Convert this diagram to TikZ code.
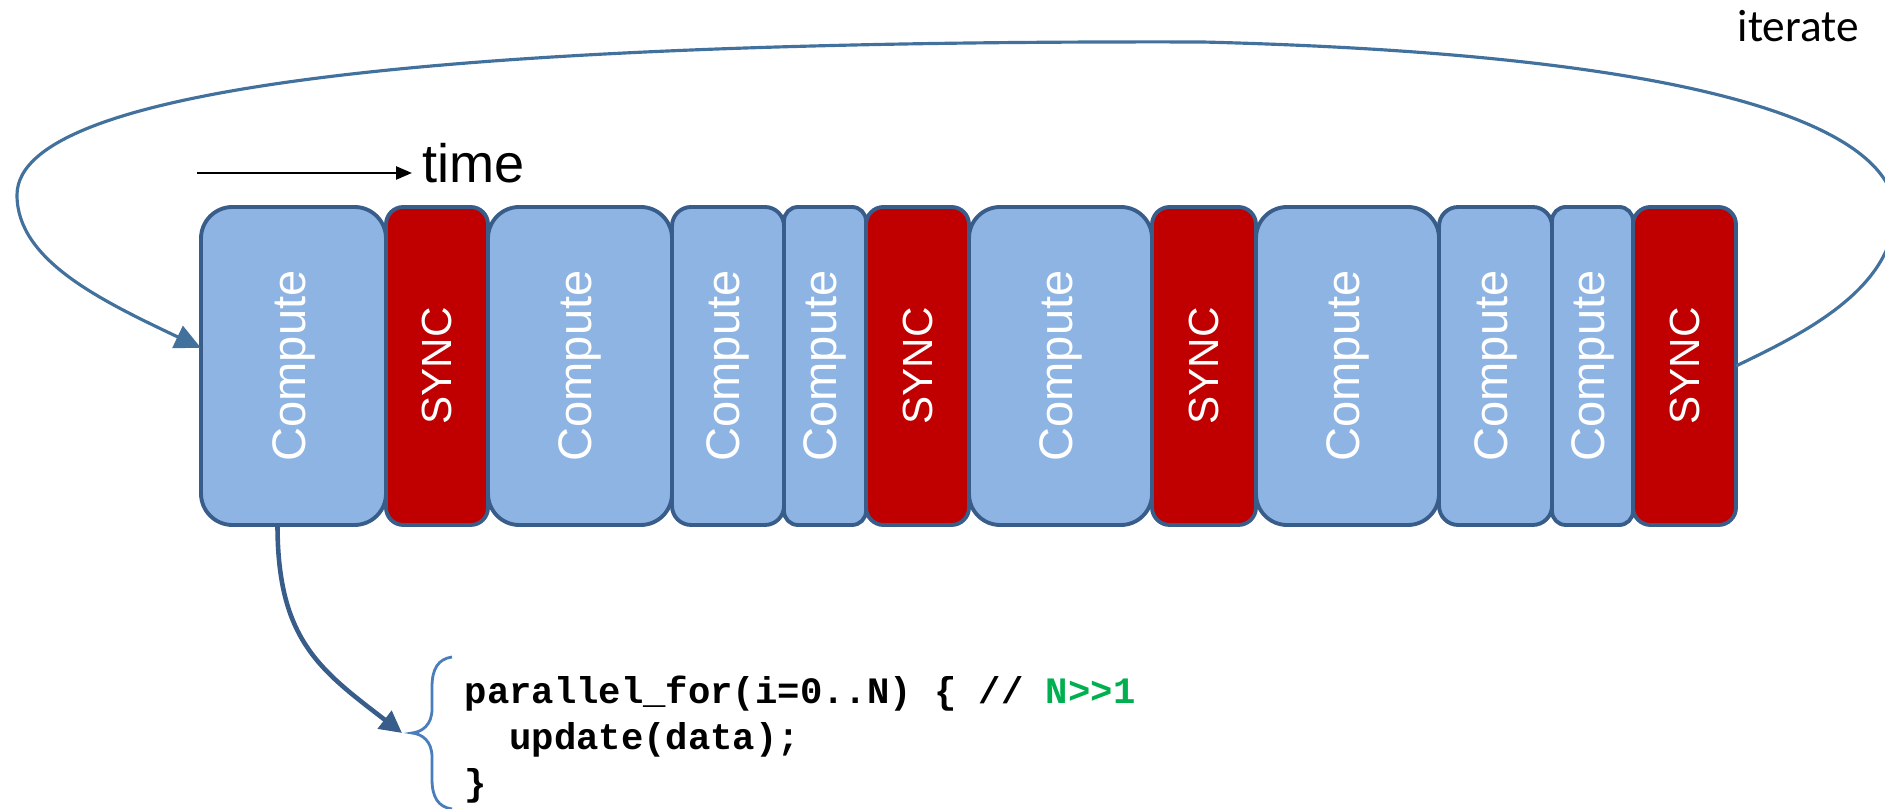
\documentclass[tikz,border=0pt]{standalone}
\usepackage{fontspec}
\setmainfont{Liberation Sans}
\newfontfamily\calfont{Carlito}
\newfontfamily\codefont{Liberation Mono}
\usepackage{graphicx}
\usetikzlibrary{positioning,arrows.meta}

\definecolor{cor_fill}{RGB}{142,180,227}
\definecolor{cor_sync}{RGB}{192,0,0}
\definecolor{cor_line}{RGB}{56,93,138}
\definecolor{cor_loop}{RGB}{65,113,156}
\definecolor{cor_brace}{RGB}{74,126,187}
\definecolor{cor_green}{RGB}{0,176,80}

\begin{document}
\begin{tikzpicture}
        \tikzset{
            blk/.style 2 args={
                draw=cor_line,
                line width=1.1pt,
                fill=#1,
                text=white,
                minimum width=#2,
                minimum height=3.18cm,
                rounded corners=0.17*#2,
                inner sep=0pt,
                outer sep=0pt
            },
            comp/.style={blk={cor_fill}{#1}, font=\fontsize{13.4}{16}\selectfont},
            sync/.style={blk={cor_sync}{#1}, font=\fontsize{12}{14}\selectfont}
        }
        \useasboundingbox (0,0) rectangle (18.85,8.09);

        % BLOCOS
        \node[comp=1.85cm, anchor=west] (c1) at (2.01,4.43) {\rotatebox{90}{Compute}};
        \node[sync=1.02cm, right=0pt of c1] (s1) {\rotatebox{90}{SYNC}};
        \node[comp=1.84cm, right=0pt of s1] (c2) {\rotatebox{90}{Compute}};
        \node[comp=1.12cm, right=0pt of c2] (c3) {\rotatebox{90}{Compute}};
        \node[comp=0.82cm, right=0pt of c3] (c4) {\rotatebox{90}{Compute}};
        \node[sync=1.03cm, right=0pt of c4] (s2) {\rotatebox{90}{SYNC}};
        \node[comp=1.83cm, right=0pt of s2] (c5) {\rotatebox{90}{Compute}};
        \node[sync=1.04cm, right=0pt of c5] (s3) {\rotatebox{90}{SYNC}};
        \node[comp=1.83cm, right=0pt of s3] (c6) {\rotatebox{90}{Compute}};
        \node[comp=1.13cm, right=0pt of c6] (c7) {\rotatebox{90}{Compute}};
        \node[comp=0.81cm, right=0pt of c7] (c8) {\rotatebox{90}{Compute}};
        \node[sync=1.03cm, right=0pt of c8] (s4) {\rotatebox{90}{SYNC}};

        % TEMPO
        \coordinate (t0) at (1.97,6.36);
        \node[anchor=base west, inner sep=0pt, font=\fontsize{15.4}{18}\selectfont] (time) at (4.22,6.26) {time};
        \draw[black, line width=0.7pt, -{Triangle[length=1.6mm,width=1.3mm]}] (t0) -- ([xshift=-1mm]time.west |- t0);

        % ITERACAO
        \node[anchor=base west, inner sep=0pt, font=\calfont\fontsize{12.9}{15}\selectfont] (iter) at (17.37,7.67) {iterate};
        \draw[cor_loop, line width=0.9pt, -{Triangle[length=2.6mm,width=2.4mm]}] (s4.east)
            .. controls (18.00,4.74) and (18.95,5.19) .. (18.95,5.99)
            .. controls (18.90,6.79) and (17.20,7.54) .. (12.02,7.67)
            .. controls (5.00,7.69) and (0.17,7.29) .. (0.17,6.14)
            .. controls (0.17,5.49) and (1.00,5.09) .. ([yshift=1.8mm]c1.west);

        % CODIGO
        \coordinate (brtip) at (4.12,0.76);
        \draw[cor_brace, line width=0.8pt] (4.52,1.52)
            .. controls (4.38,1.50) and (4.32,1.40) .. (4.32,1.22) -- (4.32,1.00)
            .. controls (4.32,0.84) and (4.22,0.77) .. (brtip)
            .. controls (4.22,0.75) and (4.32,0.68) .. (4.32,0.52) -- (4.32,0.30)
            .. controls (4.32,0.12) and (4.38,0.02) .. (4.52,0.00);
        \draw[cor_line, line width=1.3pt, -{Triangle[length=2.2mm,width=2.2mm]}] ([xshift=-1.6mm]c1.south)
            .. controls +(0,-1.15) and (3.20,1.39) .. ([xshift=-1mm]brtip);
        \node[anchor=base west, align=left, inner sep=0pt, font=\codefont\bfseries\fontsize{10.6}{13.2}\selectfont] (code) at (4.64,0.13)
            {parallel\_for(i=0..N) \{ // \textcolor{cor_green}{N>>1}\\ \phantom{xx}update(data);\\ \}};

\end{tikzpicture}
\end{document}
